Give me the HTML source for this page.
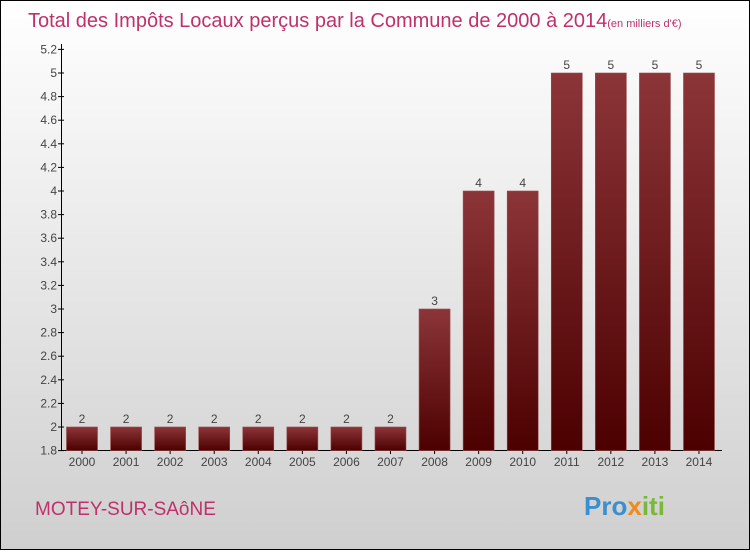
<!DOCTYPE html>
<html><head><meta charset="utf-8"><style>
body{margin:0;width:750px;height:550px;overflow:hidden;font-family:"Liberation Sans",sans-serif}
</style></head><body>
<svg width="750" height="550" xmlns="http://www.w3.org/2000/svg">
<defs>
<linearGradient id="bg" x1="0" y1="0" x2="0" y2="1"><stop offset="0" stop-color="#ffffff"/><stop offset="1" stop-color="#cfcfcf"/></linearGradient>
<linearGradient id="bar" x1="0" y1="0" x2="0" y2="1"><stop offset="0" stop-color="#8c3539"/><stop offset="1" stop-color="#4c0000"/></linearGradient>
</defs>
<rect x="0.5" y="0.5" width="749" height="549" fill="url(#bg)" stroke="#000"/>
<text x="28" y="27" font-size="20" fill="#c0306a">Total des Impôts Locaux perçus par la Commune de 2000 à 2014<tspan font-size="11">(en milliers d'€)</tspan></text>
<g id="axes"></g>
<g id="bars"></g>
<text x="35" y="515" font-size="19" fill="#c0306a">MOTEY-SUR-SAôNE</text>
<text x="584" y="515" font-size="26" font-weight="bold"><tspan fill="#3a8fd0">Pro</tspan><tspan fill="#f08a1a">x</tspan><tspan fill="#7ab83a">iti</tspan></text>
</svg>
<script>
const years=["2000","2001","2002","2003","2004","2005","2006","2007","2008","2009","2010","2011","2012","2013","2014"];
const values=[2,2,2,2,2,2,2,2,3,4,4,5,5,5,5];
const labels=["2","2","2","2","2","2","2","2","3","4","4","5","5","5","5"];
const ticks=[1.8,2,2.2,2.4,2.6,2.8,3,3.2,3.4,3.6,3.8,4,4.2,4.4,4.6,4.8,5,5.2];
const NS="http://www.w3.org/2000/svg";
const y0=450.6,yk=118,x0=82,dx=44.07,bw=31;
const Y=v=>y0-(v-1.8)*yk, X=i=>x0+i*dx;
function mk(t,a,p,txt){const e=document.createElementNS(NS,t);for(const k in a)e.setAttribute(k,a[k]);if(txt!==undefined)e.textContent=txt;p.appendChild(e);return e;}
const ax=document.getElementById('axes'),bs=document.getElementById('bars');
let yl=mk('line',{x1:61.5,y1:44,x2:61.5,y2:451,stroke:'#000'},ax);


let xl=mk('line',{x1:61,y1:450.5,x2:722,y2:450.5,stroke:'#000'},ax);


ticks.forEach(t=>{const y=Y(t);
mk('line',{x1:58,y1:y,x2:64,y2:y,stroke:'#000'},ax);
const e=mk('text',{x:57,y:y+4,'font-size':12,fill:'#444','text-anchor':'end'},ax,String(t));

});
years.forEach((yr,i)=>{const x=X(i),v=values[i];
mk('line',{x1:x,y1:450,x2:x,y2:454,stroke:'#000'},ax);
const t=mk('text',{x:x,y:466,'font-size':12,fill:'#444','text-anchor':'middle'},ax,yr);


const r=mk('rect',{x:x-bw/2,y:Y(v),width:bw,height:y0-Y(v),fill:'url(#bar)',stroke:'#9a4a4d','stroke-width':0.6},bs);


const l=mk('text',{x:x,y:Y(v)-4,'font-size':12,fill:'#444','text-anchor':'middle'},bs,labels[i]);

});
</script>
</body></html>
